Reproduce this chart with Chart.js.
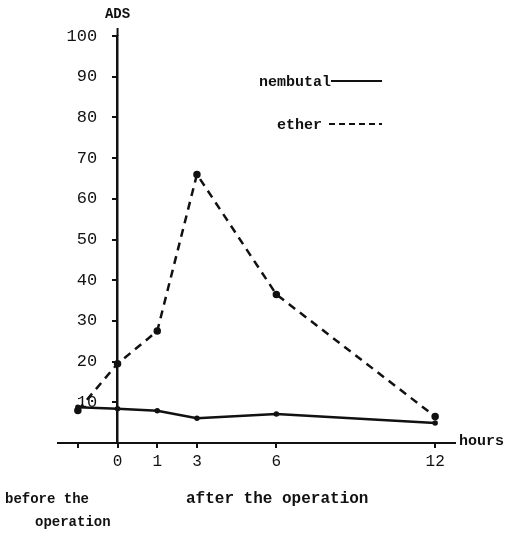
<!DOCTYPE html>
<html>
<head>
<meta charset="utf-8">
<script src="https://cdn.jsdelivr.net/npm/chart.js@4"></script>
<style>
  html, body { margin: 0; padding: 0; background: #fff; }
  #wrap { width: 507px; height: 538px; }
</style>
</head>
<body>
<div id="wrap"><canvas id="chart"></canvas></div>
<script>
// hours after the operation ("" first = before the operation, other blanks keep the spacing)
const hourLabels = ["", "0", "1", "3", "", "6", "", "", "", "12"];
const nembutal = [8.8, 8.4, 7.9, 6.1, null, 7.1, null, null, null, 4.9];
const ether = [8, 19.5, 27.5, 66, null, 36.5, null, null, null, 6.5];
const yTicks = [10, 20, 30, 40, 50, 60, 70, 80, 90, 100];

const FONT = "'Liberation Mono', 'DejaVu Sans Mono', monospace";

// texts drawn round the axes: axis names, legend, notes below
const extras = {
  id: "extras",
  afterDraw(chart) {
    const ctx = chart.ctx;
    const x = chart.scales.x;
    const y = chart.scales.y;
    const x0 = x.getPixelForValue(1);
    const y0 = y.getPixelForValue(0);
    ctx.save();
    ctx.strokeStyle = "#111";
    ctx.lineWidth = 2;
    // small piece of the y axis above 100
    ctx.beginPath();
    ctx.moveTo(x0, y.getPixelForValue(100));
    ctx.lineTo(x0, y.getPixelForValue(100) - 8);
    ctx.stroke();

    ctx.fillStyle = "#111";
    ctx.textBaseline = "middle";
    ctx.font = "bold 14px " + FONT;
    ctx.textAlign = "center";
    ctx.fillText("ADS", x0, 14);
    ctx.textAlign = "left";
    ctx.font = "bold 15px " + FONT;
    ctx.fillText("hours", x.right + 4, y0 - 2);

    // legend
    ctx.font = "bold 15px " + FONT;
    ctx.textAlign = "right";
    ctx.fillText("nembutal", 331, 82);
    ctx.fillText("ether", 322, 125);
    ctx.beginPath();
    ctx.moveTo(331, 81);
    ctx.lineTo(382, 81);
    ctx.stroke();
    ctx.setLineDash([6, 4]);
    ctx.beginPath();
    ctx.moveTo(329, 124);
    ctx.lineTo(382, 124);
    ctx.stroke();
    ctx.setLineDash([]);

    // notes under the x axis
    ctx.font = "bold 14px " + FONT;
    ctx.textAlign = "left";
    ctx.fillText("before the", 5, 499);
    ctx.fillText("operation", 35, 522);
    ctx.font = "bold 16px " + FONT;
    ctx.fillText("after the operation", 186, 499);
    ctx.restore();
  }
};

new Chart(document.getElementById("chart"), {
  type: "line",
  data: {
    labels: hourLabels,
    datasets: [
      {
        label: "nembutal",
        data: nembutal,
        borderColor: "#111",
        backgroundColor: "#111",
        borderWidth: 2.5,
        pointRadius: 1.5,
        spanGaps: true,
        tension: 0,
        fill: false,
      },
      {
        label: "ether",
        data: ether,
        borderColor: "#111",
        backgroundColor: "#111",
        borderWidth: 2.5,
        borderDash: [8, 6],
        pointRadius: 2.5,
        spanGaps: true,
        tension: 0,
        fill: false,
      },
    ],
  },
  options: {
    responsive: true,
    maintainAspectRatio: false,
    animation: false,
    layout: { padding: { left: 58, right: 52, top: 36, bottom: 65 } },
    plugins: {
      legend: { display: false },
      tooltip: { enabled: false },
    },
    scales: {
      x: {
        type: "category",
        offset: true,
        afterFit: (scale) => { scale.height = 30; },
        border: { display: true, color: "#111", width: 2 },
        grid: {
          drawOnChartArea: false,
          tickLength: 5,
          lineWidth: 2,
          color: (c) => (c.index === 0 || (c.tick && c.tick.label !== "")) ? "#111" : "rgba(0,0,0,0)",
        },
        ticks: {
          color: "#111",
          autoSkip: false,
          maxRotation: 0,
          padding: 4,
          font: { family: FONT, size: 16 },
        },
      },
      y: {
        min: 0,
        max: 100,
        position: { x: 1 },
        afterFit: (scale) => { scale.width = 0; },
        afterBuildTicks: (scale) => { scale.ticks = yTicks.map((v) => ({ value: v })); },
        border: { display: true, color: "#111", width: 2.5 },
        grid: { drawOnChartArea: false, tickLength: 4, lineWidth: 2, color: "#111" },
        ticks: {
          color: "#111",
          padding: 2,
          font: { family: FONT, size: 17 },
          callback: (v) => v + "  ",
        },
      },
    },
  },
  plugins: [extras],
});
</script>
</body>
</html>
